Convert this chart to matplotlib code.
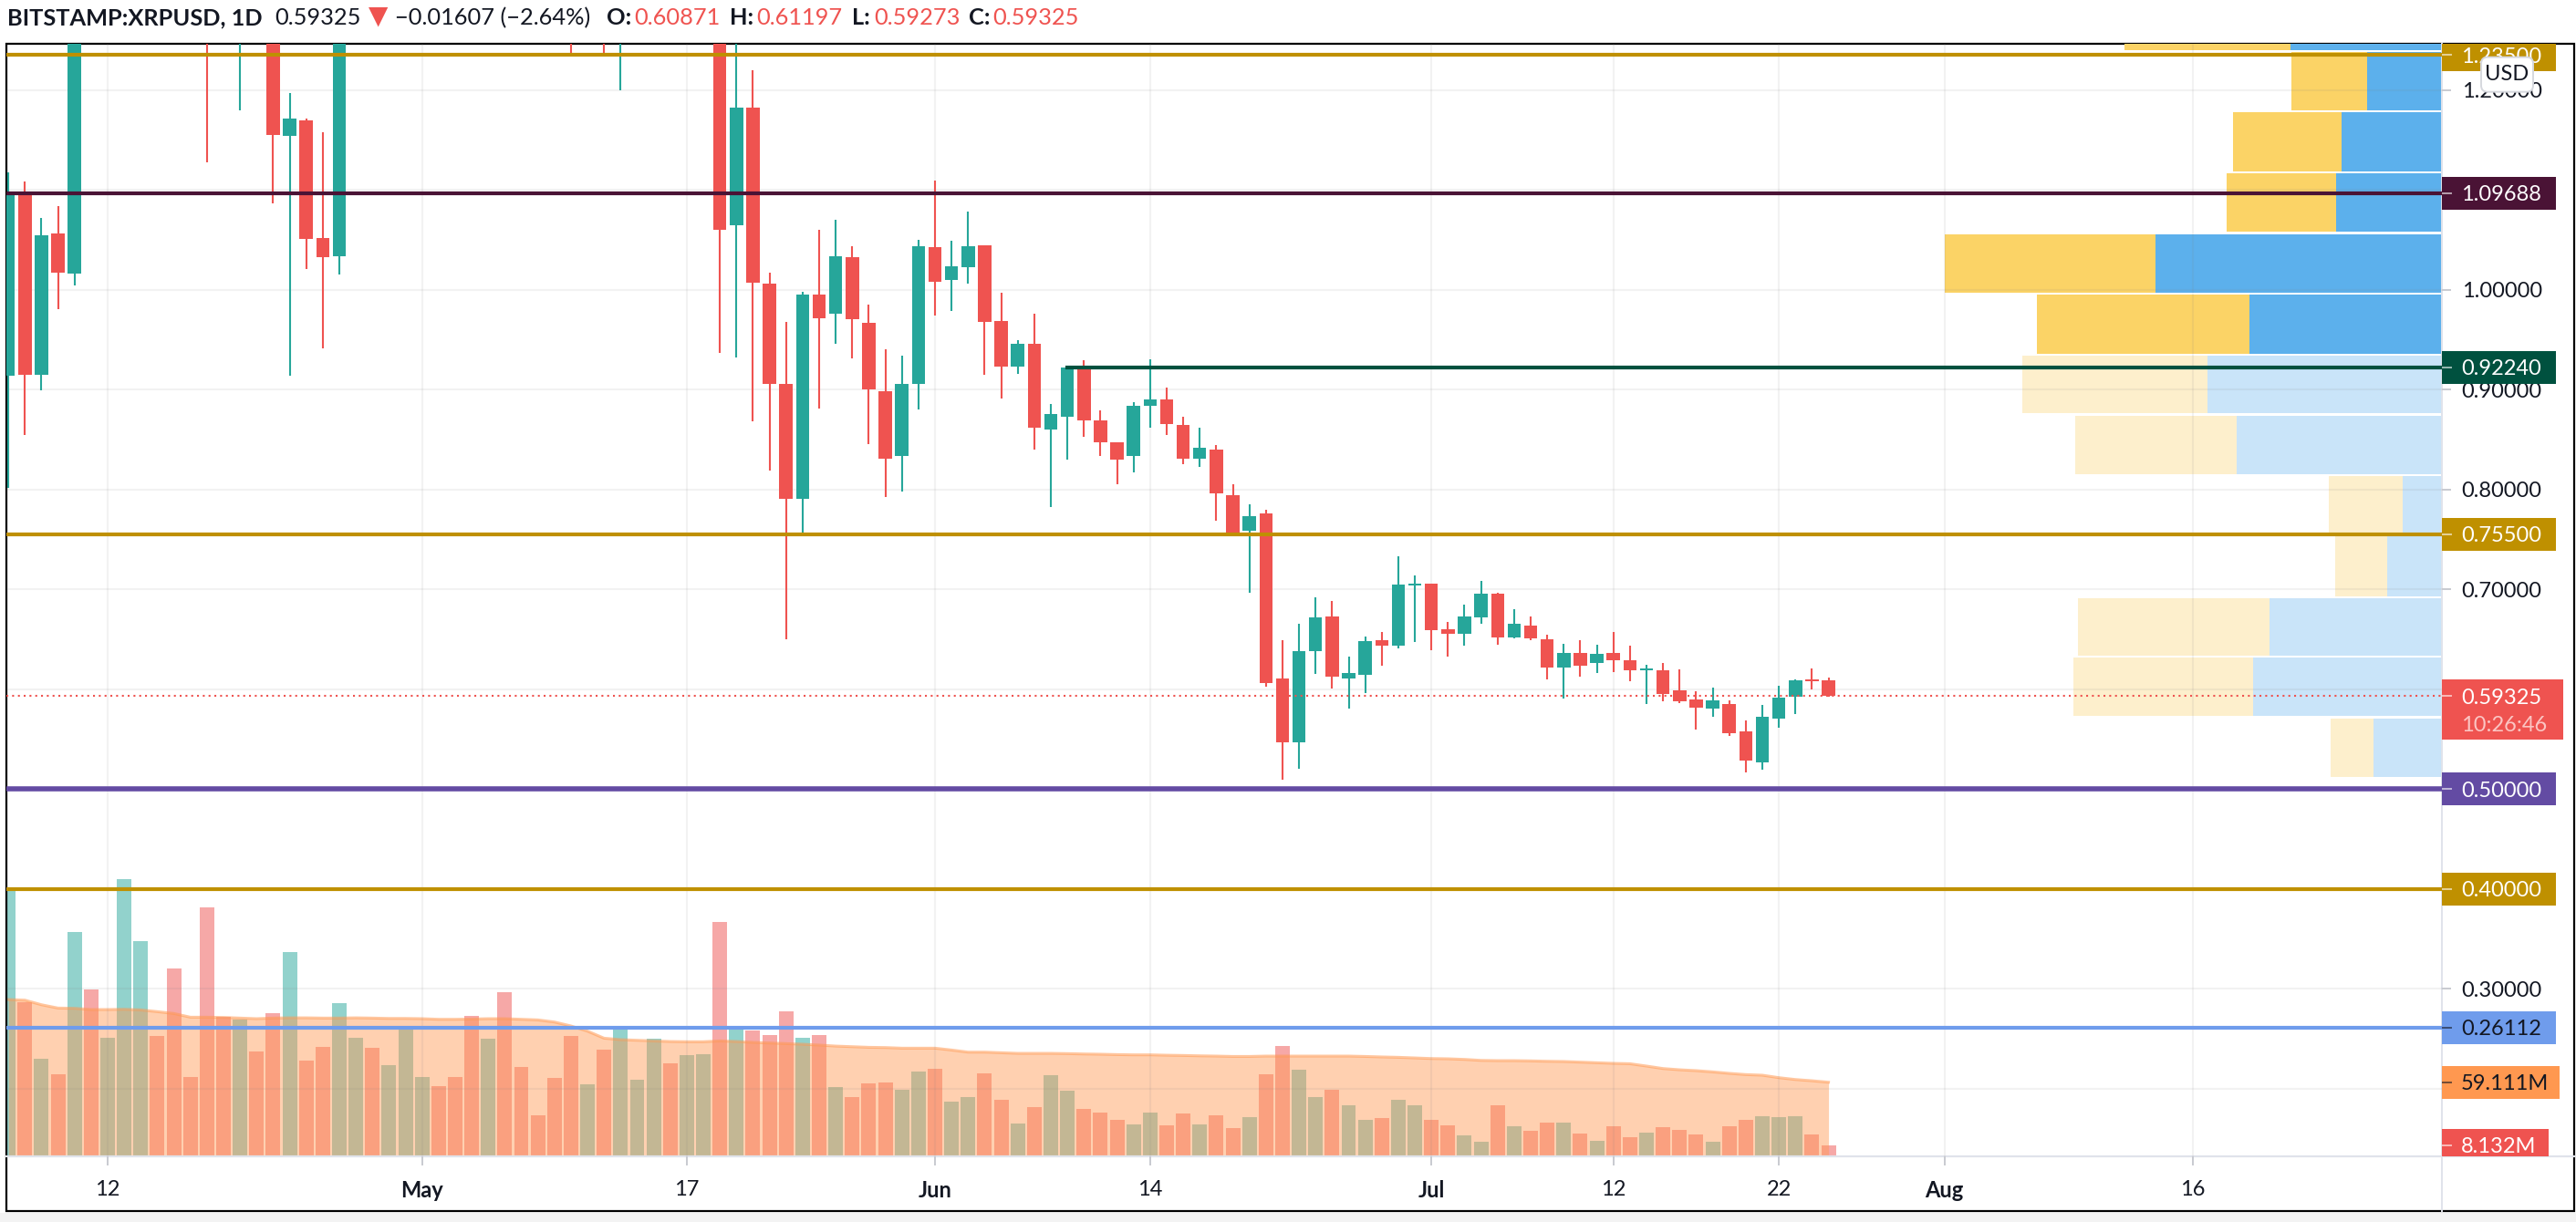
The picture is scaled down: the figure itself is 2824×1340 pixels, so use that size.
import numpy as np
import matplotlib
matplotlib.use("Agg")
import matplotlib.pyplot as plt
from matplotlib.lines import Line2D
from matplotlib.patches import Rectangle, FancyBboxPatch

plt.rcParams['font.family'] = ['Lato', 'DejaVu Sans']

# daily candles, day 0 = 12 Apr (first bars start 6 days earlier)
open_px = [.9142,1.0956,.9151,1.0566,1.0162,1.38,1.32,1.40,1.72,1.85,
           1.75,1.50,1.42,1.30,1.27,1.38,1.33,1.1538,1.1696,1.0518,
           1.0338,1.30,1.36,1.33,1.38,1.42,1.48,1.45,1.42,1.38,
           1.50,1.43,1.41,1.40,1.38,1.32,1.40,1.33,1.44,1.52,
           1.60,1.55,1.60,1.62,1.0649,1.1824,1.0063,.9057,.7909,.9950,
           .9761,1.0326,.9669,.8986,.8331,.9057,1.0424,1.0098,1.0226,1.0449,
           .9685,.9229,.9463,.8596,.8730,.9212,.8688,.8470,.8331,.8834,
           .8902,.8642,.8310,.8403,.7946,.7586,.7756,.6105,.5466,.6385,
           .6732,.6105,.6145,.6489,.6434,.7042,.7061,.6598,.6558,.6723,
           .6955,.6519,.6638,.6501,.6212,.6364,.6261,.6364,.6288,.6188,
           .6190,.5987,.5898,.5807,.5853,.5581,.5266,.5709,.5923,.6102,.60871]
close_px = [1.0965,.9151,1.0548,1.0174,1.30,1.32,1.40,1.72,1.85,1.75,
            1.50,1.42,1.30,1.27,1.38,1.33,1.1547,1.1717,1.0512,1.0329,
            1.28,1.36,1.33,1.38,1.42,1.48,1.45,1.42,1.38,1.50,
            1.43,1.41,1.40,1.38,1.32,1.40,1.33,1.44,1.52,1.60,
            1.55,1.60,1.62,1.0597,1.1824,1.0071,.9057,.7909,.9950,.9711,
            1.0335,.9703,.8998,.8310,.9057,1.0432,1.0080,1.0235,1.0440,.9682,
            .9229,.9463,.8621,.8756,.9224,.8688,.8470,.8302,.8839,.8902,
            .8659,.8310,.8415,.7963,.7556,.7736,.6065,.5466,.6385,.6720,
            .6124,.6160,.6480,.6434,.7049,.7055,.6589,.6558,.6732,.6955,
            .6519,.6653,.6510,.6212,.6364,.6239,.6355,.6291,.6190,.6209,
            .5953,.5883,.5816,.5889,.5563,.5284,.5725,.5917,.6093,.6084,.59325]
high_px = [1.1175,1.1084,1.0719,1.0838,1.34,1.40,1.44,1.80,1.96,1.88,
           1.78,1.55,1.46,1.36,1.40,1.42,1.36,1.1967,1.1714,1.1580,
           1.32,1.40,1.39,1.42,1.46,1.51,1.53,1.49,1.47,1.56,
           1.54,1.48,1.45,1.44,1.42,1.44,1.43,1.47,1.55,1.64,
           1.63,1.66,1.67,1.65,1.27,1.2198,1.0167,.9674,.9983,1.0596,
           1.0701,1.0432,.9853,.9404,.9337,1.0500,1.1093,1.0486,1.0780,1.0449,
           .9967,.9493,.9757,.8860,.9224,.9292,.8789,.8470,.8877,.9304,
           .9019,.8726,.8617,.8445,.8055,.7849,.7795,.6489,.6653,.6924,
           .6884,.6325,.6525,.6577,.7329,.7137,.7061,.6671,.6845,.7088,
           .6967,.6799,.6732,.6547,.6453,.6489,.6443,.6577,.6434,.6248,
           .6266,.6200,.5977,.6014,.5889,.5686,.5841,.6032,.6102,.6209,.61197]
low_px = [.8017,.8546,.8996,.9806,1.0046,1.29,1.30,1.38,1.68,1.70,
          1.40,1.38,1.1276,1.26,1.1799,1.30,1.0865,.9142,1.0210,.9411,
          1.0156,1.29,1.30,1.31,1.36,1.40,1.42,1.39,1.32,1.36,
          1.38,1.38,1.36,1.33,1.2362,1.29,1.2362,1.1994,1.41,1.48,
          1.50,1.52,1.56,.9370,.9325,.8679,.8185,.6501,.7556,.8813,
          .9459,.9308,.8455,.7925,.7975,.8805,.9740,.9790,1.0059,.9145,
          .8910,.9161,.8399,.7828,.8302,.8525,.8331,.8051,.8168,.8621,
          .8541,.8252,.8223,.7690,.7550,.6969,.6029,.5092,.5204,.6154,
          .6010,.5807,.5962,.6239,.6412,.6474,.6394,.6327,.6434,.6656,
          .6443,.6510,.6492,.6096,.5910,.6124,.6163,.6172,.6084,.5855,
          .5874,.5864,.5594,.5719,.5527,.5162,.5198,.5612,.5749,.5999,.59273]

# volume in millions, and its moving average
volume = [216.3,123.9,77.8,65.3,180.8,134.0,94.8,223.9,173.1,96.5,
          151.0,63.5,200.5,112.1,109.8,84.0,115.3,164.5,76.8,87.7,
          122.9,94.8,86.9,72.9,102.2,63.5,55.7,63.5,112.8,94.1,
          131.8,71.4,32.3,62.8,96.5,57.4,85.5,102.2,61.1,94.1,
          74.4,80.8,81.8,188.7,102.2,101.0,97.0,116.7,94.8,97.0,
          54.9,47.0,58.1,58.9,52.7,67.7,69.9,43.3,47.3,66.3,
          45.1,25.6,38.9,64.8,52.2,37.2,34.7,28.6,24.9,34.7,
          23.9,34.0,24.9,32.5,21.7,31.0,65.5,88.2,69.2,47.3,
          53.0,40.4,28.6,30.3,45.1,40.4,28.6,23.9,16.3,10.8,
          40.4,23.2,20.0,26.1,26.1,17.7,11.6,23.2,14.5,18.5,
          22.4,20.7,17.0,10.8,23.2,28.6,31.8,31.0,31.8,17.0,8.1]
volume_ma = [126.1,125.6,121.9,119.2,119.0,118.0,118.0,118.2,117.7,116.3,
             114.8,111.8,111.8,111.6,111.1,110.6,111.1,111.3,111.3,111.1,
             111.1,111.3,111.1,110.8,110.8,110.6,110.1,110.1,110.3,110.6,
             110.6,110.1,109.6,107.9,104.7,100.5,94.8,93.6,93.1,92.6,
             92.1,91.9,91.9,92.6,92.1,91.4,90.9,90.4,89.9,89.2,
             88.4,87.9,87.4,87.2,86.7,86.7,86.7,85.2,83.5,83.5,
             83.0,82.5,82.5,82.5,82.3,82.0,81.8,81.5,81.3,81.3,
             81.0,80.8,80.5,80.3,80.0,80.0,80.3,80.3,80.3,80.3,
             80.3,80.3,80.0,79.6,79.3,78.8,78.3,78.1,77.6,76.8,
             76.6,76.6,76.4,76.1,75.9,75.4,74.9,74.4,74.1,72.2,
             70.2,69.2,68.5,67.5,66.3,65.3,64.8,62.8,61.3,60.3,59.1]

# volume profile rows, price bottom/top and up/down volume (relative units)
vp_bottom = [1.2399,1.1796,1.1187,1.0579,.9970,.9361,.8762,.8155,.7569,.6933,.6337,.5729,.5119]
vp_top = [1.298,1.2378,1.1778,1.1166,1.0557,.9949,.9340,.8740,.8131,.7529,.6912,.6317,.5705]
vp_up = [166.5,81.7,109.7,116.2,314,210.7,257.2,225.1,42.6,59.8,188.8,207,75.2]
vp_down = [182,82.9,119.6,119.6,231.4,233.3,203,176.9,81,57.3,210,196.9,47]
vp_faded = [0,0,0,0,0,0,1,1,1,1,1,1,1]

tick_days = [0, 19, 35, 50, 63, 80, 91, 101, 111, 126]
tick_labels = ["12", "May", "17", "Jun", "14", "Jul", "12", "22", "Aug", "16"]
price_ticks = [0.2, 0.3, 0.4, 0.5, 0.6, 0.7, 0.8, 0.9, 1.0, 1.1, 1.2]

GREEN = "#26a69a"
RED = "#ef5350"
GOLD = "#bf9000"
MAROON = "#4a1335"
DKGREEN = "#00513f"
PURPLE = "#634ba3"
BLUE = "#6f9cec"
ORANGE = "#ff9850"
INK = "#131722"

W, H = 2824, 1340
fig = plt.figure(figsize=(W / 100, H / 100), dpi=100, facecolor="white")
plot_rect = [7 / W, (H - 1268) / H, 2670 / W, 1220 / H]

days = np.arange(-6, -6 + len(open_px))
o, c, hi, lo = map(np.array, (open_px, close_px, high_px, low_px))
up = c >= o
colors = np.where(up, GREEN, RED)

ax = fig.add_axes(plot_rect)
ax.set_xlim(-6.12, 141.07)
ax.set_ylim(0.13215, 1.2463)
ax.patch.set_visible(False)
for s in ax.spines.values():
    s.set_visible(False)

# volume underneath everything
ax_vol = ax.twinx()
ax_vol.set_ylim(-0.96, 900.6)
ax_vol.axis("off")
ax_vol.set_zorder(0)
ax_vol.bar(days, volume, width=0.88, color=colors, alpha=0.5, linewidth=0, zorder=2)
ax_vol.fill_between(days, 0, volume_ma, color=ORANGE, alpha=0.45, linewidth=0, zorder=3)
ax_vol.plot(days, volume_ma, color=ORANGE, alpha=0.55, lw=2.2, zorder=4)

# volume profile
ax_vp = ax.twiny()
ax_vp.set_xlim(2670, 0)
ax_vp.axis("off")
ax_vp.set_zorder(1)
vp_b = np.array(vp_bottom)
vp_h = np.array(vp_top) - vp_b
for i in range(len(vp_up)):
    blue, yellow = ("#c9e4f9", "#fdefcc") if vp_faded[i] else ("#5cb0ec", "#fbd366")
    ax_vp.barh(vp_b[i], vp_up[i], height=vp_h[i], align="edge", color=blue, linewidth=0)
    ax_vp.barh(vp_b[i], vp_down[i], height=vp_h[i], left=vp_up[i], align="edge", color=yellow, linewidth=0)

ax.set_zorder(2)
ax.grid(True, color="#808080", alpha=0.1, lw=1.5, zorder=0)
ax.set_axisbelow(True)

# candles
ax.vlines(days, lo, hi, colors=colors, lw=1.5, zorder=3)
ax.bar(days, np.abs(c - o), bottom=np.minimum(o, c), width=0.8, color=colors, linewidth=0, zorder=4)

# drawn levels
ax.axhline(1.235, color=GOLD, lw=3, zorder=5)
ax.axhline(1.09688, color=MAROON, lw=3, zorder=5)
ax.plot([58, 141.07], [0.9224, 0.9224], color=DKGREEN, lw=3, zorder=5)
ax.axhline(0.755, color=GOLD, lw=3, zorder=5)
ax.axhline(0.5, color=PURPLE, lw=4, zorder=5)
ax.axhline(0.4, color=GOLD, lw=3, zorder=5)
ax.axhline(0.26112, color=BLUE, lw=3, zorder=5)
ax.axhline(0.59325, color=RED, lw=1.5, ls=(0, (1, 2.04)), zorder=6)

# axes ticks and labels
ax.set_xticks(tick_days)
ax.set_xticklabels(tick_labels, fontsize=17, color=INK)
for lab in ax.get_xticklabels():
    if lab.get_text() in ("May", "Jun", "Jul", "Aug"):
        lab.set_fontweight("bold")
ax.tick_params(axis="x", length=7, width=1.4, color="#c8cad0", pad=12)
ax.yaxis.tick_right()
ax.set_yticks(price_ticks)
ax.set_yticklabels(["%.5f" % v for v in price_ticks], fontsize=17, color=INK, ha="left")
ax.tick_params(axis="y", length=7.5, width=1.4, color="#c8cad0", pad=8)

# price tags in the right gutter
gut_rect = [2677 / W, (H - 1268) / H, 145 / W, 1220 / H]
ax_tag = fig.add_axes(gut_rect)
ax_tag.set_xlim(0, 145)
ax_tag.set_ylim(ax.get_ylim())
ax_tag.axis("off")
ax_tag.set_zorder(3)
ax_vtag = fig.add_axes(gut_rect)
ax_vtag.set_xlim(0, 145)
ax_vtag.set_ylim(ax_vol.get_ylim())
ax_vtag.axis("off")
ax_vtag.set_zorder(4)


def tag(a, value, text, bg, fg, width=124.6):
    y0, y1 = a.get_ylim()
    h = 36 * (y1 - y0) / 1220
    a.add_patch(Rectangle((0, value - h / 2), width, h, color=bg, linewidth=0))
    a.plot([0, 10], [value, value], color=fg, alpha=0.6, lw=1.4)
    a.text(21, value, text, color=fg, fontsize=17, va="center_baseline", ha="left", clip_on=True)


tag(ax_tag, 1.235, "1.23500", GOLD, "white")
tag(ax_tag, 1.09688, "1.09688", MAROON, "white")
tag(ax_tag, 0.9224, "0.92240", DKGREEN, "white")
tag(ax_tag, 0.755, "0.75500", GOLD, "white")
tag(ax_tag, 0.5, "0.50000", PURPLE, "white")
tag(ax_tag, 0.4, "0.40000", GOLD, "white")
tag(ax_tag, 0.26112, "0.26112", BLUE, INK)
tag(ax_vtag, 59.111, "59.111M", ORANGE, INK, width=129)
tag(ax_vtag, 8.132, "8.132M", RED, "white", width=117)

# last price tag also carries the countdown
px_h = (ax.get_ylim()[1] - ax.get_ylim()[0]) / 1220
ax_tag.add_patch(Rectangle((0, 0.59325 - 48 * px_h), 133.4, 66 * px_h, color=RED, linewidth=0))
ax_tag.plot([0, 10], [0.59325, 0.59325], color="white", alpha=0.6, lw=1.4)
ax_tag.text(21, 0.59325, "0.59325", color="white", fontsize=17, va="center_baseline")
ax_tag.text(21, 0.59325 - 30.5 * px_h, "10:26:46", color="#fbc5c3", fontsize=17, va="center_baseline")

# axis borders and outer frame
fig.add_artist(Line2D([2677 / W, 2677 / W], [(H - 1328) / H, (H - 48) / H], color="#e0e3eb", lw=1.4))
fig.add_artist(Line2D([7 / W, 2822 / W], [(H - 1268) / H, (H - 1268) / H], color="#e0e3eb", lw=1.6))
fig.add_artist(Rectangle((0, 0), 1, (H - 1330) / H, color="#f3f3f3", linewidth=0))
fig.add_artist(Rectangle((7 / W, (H - 1328) / H), 2815 / W, 1280 / H, fill=False, edgecolor="black", lw=1.6))

# currency badge
usd = FancyBboxPatch((2720, H - 100.7), 57, 38, boxstyle="round,pad=0,rounding_size=7",
                     facecolor="white", edgecolor="#d6d8de", lw=1.4, transform=None, zorder=10)
fig.add_artist(usd)
fig.text(2748.5 / W, (H - 81) / H, "USD", fontsize=17, color=INK, ha="center", va="center", zorder=11)

# header legend
header = [
    (8, "BITSTAMP:XRPUSD, 1D", INK, "bold"),
    (301, "0.59325", INK, "normal"),
    (433, "\u22120.01607 (\u22122.64%)", INK, "normal"),
    (665, "O:", INK, "bold"),
    (695, "0.60871", RED, "normal"),
    (800, "H:", INK, "bold"),
    (829, "0.61197", RED, "normal"),
    (934, "L:", INK, "bold"),
    (958, "0.59273", RED, "normal"),
    (1062, "C:", INK, "bold"),
    (1088, "0.59325", RED, "normal"),
]
for x, s, col, weight in header:
    fig.text(x / W, (H - 27) / H, s, fontsize=18.3, color=col, fontweight=weight, va="baseline", ha="left")
fig.text(414.5 / W, (H - 18) / H, "\u25bc", fontsize=20, color=RED, ha="center", va="center",
         family="DejaVu Sans")

fig.savefig("out.png", dpi=100)
